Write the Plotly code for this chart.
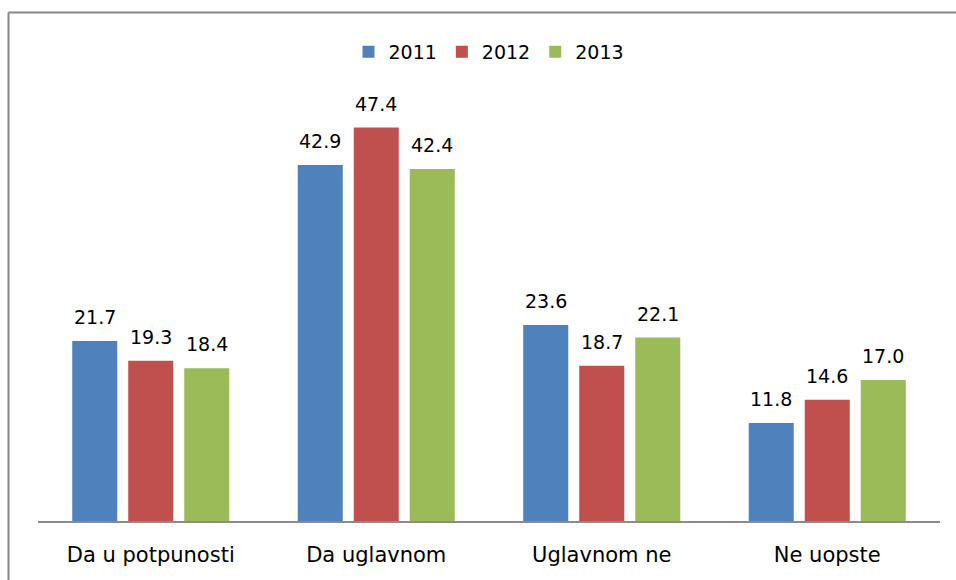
import plotly.graph_objects as go

categories = ["Da u potpunosti", "Da uglavnom", "Uglavnom ne", "Ne uopste"]
years = ["2011", "2012", "2013"]
v2011 = [21.7, 42.9, 23.6, 11.8]
v2012 = [19.3, 47.4, 18.7, 14.6]
v2013 = [18.4, 42.4, 22.1, 17.0]
colors = ["#4F81BD", "#C0504D", "#9BBB59"]

FONT = "DejaVu Sans"
BARGAP = 0.255
GROUPGAP = 0.196

xpos = list(range(len(categories)))
series = [v2011, v2012, v2013]

fig = go.Figure()
for name, vals, col in zip(years, series, colors):
    fig.add_trace(go.Bar(
        x=xpos, y=vals, name=name, marker_color=col, marker_line_width=0,
    ))

slot = (1 - BARGAP) / len(series)
annotations = []
for j, vals in enumerate(series):
    for i, v in enumerate(vals):
        annotations.append(dict(
            x=i + (j - (len(series) - 1) / 2) * slot, y=v, xref="x", yref="y",
            text=f"{v:.1f}", showarrow=False, yanchor="bottom", xanchor="center",
            yshift=11, font=dict(family=FONT, size=19, color="black"),
        ))

L, R, T, B = 38, 16, 106, 59
W, H = 956, 580
pw = W - L - R
ph = H - T - B

def px_x(px):
    return (px - L) / pw

def px_y(py):
    return (H - B - py) / ph

fig.update_layout(
    width=W, height=H,
    margin=dict(l=L, r=R, t=T, b=B, pad=0),
    paper_bgcolor="white", plot_bgcolor="white",
    barmode="group", bargap=BARGAP, bargroupgap=GROUPGAP,
    font=dict(family=FONT, size=19, color="black"),
    showlegend=True,
    legend=dict(orientation="h", x=0.5, xanchor="center", y=px_y(52), yanchor="middle",
                font=dict(family=FONT, size=19, color="black"),
                itemwidth=30, tracegroupgap=0, bgcolor="rgba(0,0,0,0)"),
    xaxis=dict(showline=True, linecolor="#8C8C8C", linewidth=2, showgrid=False,
               range=[-0.5, len(categories) - 0.5],
               tickmode="array", tickvals=xpos, ticktext=categories,
               ticks="outside", ticklen=0, tickfont=dict(family=FONT, size=21, color="black"),
               ticklabelstandoff=14, zeroline=False),
    yaxis=dict(range=[0, 50], visible=False, showgrid=False),
    annotations=annotations,
    shapes=[
        dict(type="line", xref="paper", yref="paper", x0=px_x(8.5), x1=px_x(8.5),
             y0=px_y(12.5), y1=px_y(600), line=dict(color="#868686", width=2)),
        dict(type="line", xref="paper", yref="paper", x0=px_x(8.5), x1=px_x(970),
             y0=px_y(12.5), y1=px_y(12.5), line=dict(color="#868686", width=2)),
    ],
)

fig.write_html("out.html", config={"displayModeBar": False},
               post_script="document.body.style.margin='0';document.body.style.overflow='hidden';")
